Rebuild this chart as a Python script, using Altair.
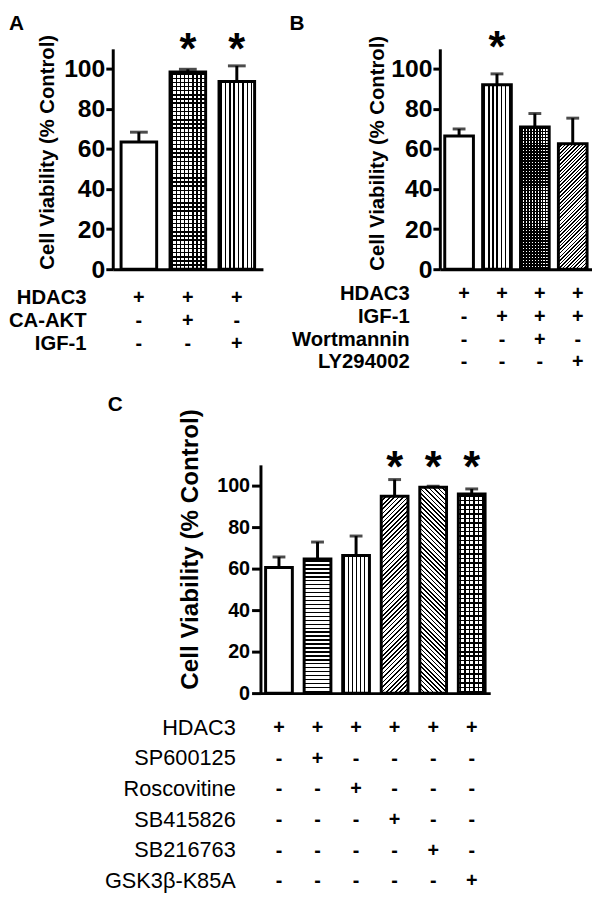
import altair as alt
import pandas as pd

FONT = "Liberation Sans"

# ---------------- data ----------------
a_rows = ["HDAC3", "CA-AKT", "IGF-1"]
a_signs = [["+", "+", "+"],
           ["-", "+", "-"],
           ["-", "-", "+"]]
a_values = [63.5, 98.4, 93.7]
a_errors = [4.9, 1.4, 7.8]
a_star = [False, True, True]
a_fill = ["plain", "grid", "vlines"]

b_rows = ["HDAC3", "IGF-1", "Wortmannin", "LY294002"]
b_signs = [["+", "+", "+", "+"],
           ["-", "+", "+", "+"],
           ["-", "-", "+", "-"],
           ["-", "-", "-", "+"]]
b_values = [66.5, 92.1, 71.0, 62.6]
b_errors = [3.5, 5.4, 6.7, 12.8]
b_star = [False, True, False, False]
b_fill = ["plain", "vlines", "checker", "diag_up"]

c_rows = ["HDAC3", "SP600125", "Roscovitine", "SB415826", "SB216763", "GSK3β-K85A"]
c_signs = [["+", "+", "+", "+", "+", "+"],
           ["-", "+", "-", "-", "-", "-"],
           ["-", "-", "+", "-", "-", "-"],
           ["-", "-", "-", "+", "-", "-"],
           ["-", "-", "-", "-", "+", "-"],
           ["-", "-", "-", "-", "-", "+"]]
c_values = [60.5, 64.6, 66.3, 94.9, 99.2, 96.0]
c_errors = [5.1, 8.2, 9.4, 8.0, 0.5, 2.4]
c_star = [False, False, False, True, True, True]
c_fill = ["plain", "hlines", "vlines", "diag_up", "diag_down", "grid"]

y_ticks = [0, 20, 40, 60, 80, 100]
y_max = 110
y_title = "Cell Viability (% Control)"

# ---------------- layout / style ----------------
W, H = 485, 652

geom = {
    "A": dict(x0=0, x1=152, y0=0, y1=223, pi=0.273, po=0.17),
    "B": dict(x0=331, x1=485, y0=0, y1=223, pi=0.243, po=0.13),
    "C": dict(x0=149.5, x1=382, y0=421, y1=652, pi=0.306, po=0.133),
}

style = {
    "A": dict(ylab=25, ytitle=20.5, tick=7, lpad=1, ytx=-66, yty=223,
              xoff=-(H - 223), yoff=0, lh=23, xpad=19, loff=0,
              tfs=20.5, tfw="bold", ttx=-27, tty=35, cap=18, star_dy=15.5,
              pat=dict(grid=(4.2, 1.5), vlines=(4.4, 1.5))),
    "B": dict(ylab=25, ytitle=20.5, tick=7, lpad=1, ytx=-63, yty=224,
              xoff=-(H - 223), yoff=-331, lh=23, xpad=15, loff=5,
              tfs=20.5, tfw="bold", ttx=300, tty=31, cap=13, star_dy=13.5,
              pat=dict(vlines=(4.2, 1.5), checker=(3.0, 1.5), diag_up=(3.6, 1.5))),
    "C": dict(ylab=20, ytitle=24.5, tick=9, lpad=2, ytx=-71, yty=648,
              xoff=0, yoff=-149.5, lh=31, xpad=25, loff=0,
              tfs=22, tfw="normal", ttx=124, tty=41.5, cap=13, star_dy=17,
              pat=dict(hlines=(4.0, 1.4), vlines=(4.0, 1.3), diag_up=(4.5, 1.7),
                       diag_down=(4.5, 1.7), grid=(4.5, 1.5))),
}


# ---------------- pattern helpers (gradient fills) ----------------
def make_stops(segs, on, off):
    st = [{"offset": 0, "color": off}]
    last = 0.0
    for s, e in segs:
        s = min(max(s, 0.0), 1.0)
        e = min(max(e, 0.0), 1.0)
        if e <= s or s < last:
            continue
        st += [{"offset": round(s, 5), "color": off}, {"offset": round(s, 5), "color": on},
               {"offset": round(e, 5), "color": on}, {"offset": round(e, 5), "color": off}]
        last = e
    st.append({"offset": 1, "color": off})
    return st


def grad(x1, y1, x2, y2, stops):
    return {"gradient": "linear", "x1": x1, "y1": y1, "x2": x2, "y2": y2, "stops": stops}


def vlines(w, period, lw, on="black", off="white"):
    segs, x = [], period / 2 - lw / 2
    while x < w:
        segs.append((x / w, (x + lw) / w))
        x += period
    return grad(0, 0, 1, 0, make_stops(segs, on, off))


def hlines(h, period, lw, on="black", off="white"):
    segs, y = [], period / 2 - lw / 2
    while y < h:
        segs.append((y / h, (y + lw) / h))
        y += period
    return grad(0, 0, 0, 1, make_stops(segs, on, off))


def diag_up(w, h, period, lw):
    r = h / w
    den = w * (1 + r * r)
    segs, c = [], 0.0
    while c < w + h:
        segs.append((c / den, (c + lw) / den))
        c += period
    return grad(0, 0, 1, round(r, 5), make_stops(segs, "black", "white"))


def diag_down(w, h, period, lw):
    r = h / w
    segs, c = [], -h
    while c < w:
        segs.append(((c / w + r * r) / (1 + r * r), ((c + lw) / w + r * r) / (1 + r * r)))
        c += period
    return grad(0, round(r, 5), 1, 0, make_stops(segs, "black", "white"))


def fills_for(kind, w, h, pat):
    if kind == "plain":
        return []
    p, lw = pat[kind]
    if kind in ("grid", "checker"):
        return [hlines(h, p, lw), vlines(w, p, lw, off="rgba(0,0,0,0)")]
    if kind == "vlines":
        return [vlines(w, p, lw)]
    if kind == "hlines":
        return [hlines(h, p, lw)]
    if kind == "diag_up":
        return [diag_up(w, h, p, lw)]
    if kind == "diag_down":
        return [diag_down(w, h, p, lw)]
    return []


# ---------------- panel builder ----------------
def panel(name, rows, signs, values, errors, stars, fills):
    g, st = geom[name], style[name]
    n = len(values)
    keys = ["|".join(signs[r][j] for r in range(len(rows))) for j in range(n)]
    df = pd.DataFrame({"key": keys, "value": values, "err": errors, "star": stars})
    df["top"] = df["value"] + df["err"]

    xscale = alt.Scale(domain=keys, range=[g["x0"], g["x1"]],
                       paddingInner=g["pi"], paddingOuter=g["po"])
    yscale = alt.Scale(domain=[0, y_max], range=[g["y1"], g["y0"]], nice=False, zero=True)

    xaxis = alt.Axis(
        orient="bottom", offset=st["xoff"], title=rows,
        labelExpr="split(datum.label, '|')", labelAngle=0, labelOverlap=False,
        labelFlush=False, ticks=False, tickSize=0, grid=False,
        domainColor="black", domainWidth=3,
        labelFont=FONT, labelFontSize=20, labelFontWeight="bold", labelColor="black",
        labelLineHeight=st["lh"], labelPadding=st["xpad"], labelBaseline="top",
        labelOffset=st["loff"],
        titleFont=FONT, titleFontSize=st["tfs"], titleFontWeight=st["tfw"],
        titleColor="black", titleLineHeight=st["lh"], titleAngle=0,
        titleAlign="right", titleBaseline="alphabetic",
        titleX=st["ttx"], titleY=st["tty"])
    yaxis = alt.Axis(
        orient="left", offset=st["yoff"], values=y_ticks, title=y_title, grid=False,
        domainColor="black", domainWidth=3, tickColor="black", tickWidth=3,
        tickSize=st["tick"], labelFlush=False, labelOverlap=False,
        labelFont=FONT, labelFontSize=st["ylab"], labelFontWeight="bold",
        labelColor="black", labelPadding=st["lpad"],
        titleFont=FONT, titleFontSize=st["ytitle"], titleFontWeight="bold",
        titleColor="black", titleAngle=270, titleAlign="left", titleBaseline="middle",
        titleX=st["ytx"], titleY=st["yty"])

    X = alt.X("key:N", scale=xscale, axis=xaxis)
    Y = alt.Y("value:Q", scale=yscale, axis=yaxis)

    base = alt.Chart(df)
    layers = [base.mark_bar(fill="white", strokeWidth=0).encode(x=X, y=Y)]

    step = (g["x1"] - g["x0"]) / (n - g["pi"] + 2 * g["po"])
    bw = step * (1 - g["pi"])
    ppu = (g["y1"] - g["y0"]) / y_max
    for j in range(n):
        h = values[j] * ppu
        for gr in fills_for(fills[j], bw, h, st["pat"]):
            layers.append(
                base.transform_filter(alt.datum.key == keys[j])
                .mark_bar(fill=gr, strokeWidth=0)
                .encode(x=X, y=Y))

    layers.append(base.mark_bar(fill="transparent", stroke="black", strokeWidth=3)
                  .encode(x=X, y=Y))
    layers.append(base.mark_rule(color="black", strokeWidth=3)
                  .encode(x=X, y=Y, y2=alt.Y2("top:Q")))
    layers.append(base.mark_tick(color="black", thickness=3, size=st["cap"])
                  .encode(x=X, y=alt.Y("top:Q", scale=yscale, axis=yaxis)))
    layers.append(base.transform_filter("datum.star")
                  .mark_text(text="*", font=FONT, fontSize=44, fontWeight="bold",
                             color="black", baseline="alphabetic", dy=st["star_dy"])
                  .encode(x=X, y=alt.YDatum(y_max, type="quantitative",
                                            scale=yscale, axis=yaxis)))
    return alt.layer(*layers)


def letter(t, x, y):
    return (alt.Chart(pd.DataFrame({"t": [t]}))
            .mark_text(font=FONT, fontSize=21, fontWeight="bold", color="black",
                       align="left", baseline="alphabetic")
            .encode(text="t:N", x=alt.value(x), y=alt.value(y)))


pA = panel("A", a_rows, a_signs, a_values, a_errors, a_star, a_fill)
pB = panel("B", b_rows, b_signs, b_values, b_errors, b_star, b_fill)
pC = panel("C", c_rows, c_signs, c_values, c_errors, c_star, c_fill)

chart = (alt.layer(pA, pB, pC,
                   letter("A", -105, -19), letter("B", 179, -19), letter("C", -5, 367))
         .resolve_scale(x="independent", y="independent")
         .properties(width=W, height=H, padding=0)
         .configure_view(stroke=None))

chart.save("out.html", embed_options={"renderer": "svg", "actions": False})
